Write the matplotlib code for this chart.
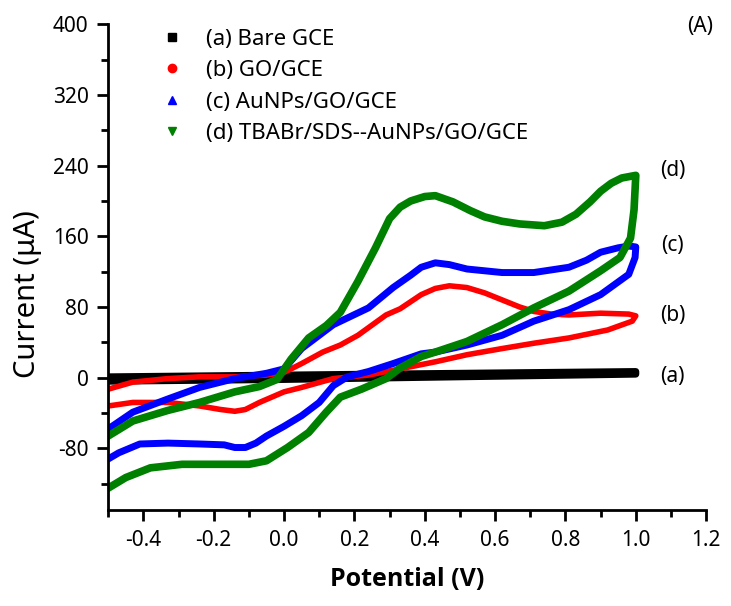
import numpy as np
import matplotlib
matplotlib.use('Agg')
import matplotlib.pyplot as plt
from matplotlib.lines import Line2D
from matplotlib.ticker import MultipleLocator

plt.rcParams['font.family'] = ['Noto Sans', 'DejaVu Sans']
plt.rcParams['axes.unicode_minus'] = False

# (a) Bare GCE
a_fwd_x = [-0.5, 0.0, 0.5, 1.0]
a_fwd_y = [1, 3, 5, 7]
a_rev_x = [1.0, 0.5, 0.0, -0.5]
a_rev_y = [4, 1, -2, -4]

# (b) GO/GCE
b_fwd_x = [-0.5, -0.43, -0.33, -0.24, -0.14, -0.05, 0.0, 0.05, 0.11, 0.16, 0.21, 0.29, 0.33,
           0.39, 0.43, 0.47, 0.52, 0.57, 0.62, 0.67, 0.71, 0.76, 0.81, 0.90, 0.98, 1.0]
b_fwd_y = [-13, -5, -1, 1, 1, 3, 6, 16, 29, 37, 48, 71, 78, 94, 101, 104, 102, 96, 88, 80, 75,
           72, 71, 73, 72, 70]
b_rev_x = [1.0, 0.99, 0.92, 0.81, 0.71, 0.62, 0.52, 0.43, 0.33, 0.24, 0.14, 0.05, 0.0,
           -0.07, -0.11, -0.14, -0.18, -0.24, -0.33, -0.43, -0.5]
b_rev_y = [70, 64, 54, 45, 39, 33, 26, 18, 10, 3, -1, -11, -16, -28, -36, -38, -36, -32, -28,
           -28, -32]

# (c) AuNPs/GO/GCE
c_fwd_x = [-0.5, -0.43, -0.33, -0.24, -0.14, -0.05, 0.0, 0.05, 0.10, 0.14, 0.24, 0.31, 0.36,
           0.39, 0.43, 0.47, 0.52, 0.62, 0.71, 0.81, 0.86, 0.90, 0.95, 0.98, 1.0]
c_fwd_y = [-58, -39, -24, -11, -1, 5, 10, 33, 48, 60, 79, 102, 116, 125, 130, 128, 123, 119,
           119, 125, 133, 142, 147, 149, 148]
c_rev_x = [1.0, 0.998, 0.98, 0.90, 0.81, 0.71, 0.62, 0.52, 0.43, 0.39, 0.31, 0.24, 0.18, 0.14,
           0.10, 0.05, 0.0, -0.05, -0.08, -0.11, -0.14, -0.17, -0.24, -0.33, -0.41, -0.47, -0.5]
c_rev_y = [148, 136, 117, 94, 77, 64, 48, 37, 29, 27, 16, 7, 1, -9, -28, -43, -55, -66, -74,
           -79, -79, -76, -75, -74, -75, -85, -92]

# (d) TBABr/SDS--AuNPs/GO/GCE
d_fwd_x = [-0.5, -0.43, -0.33, -0.24, -0.14, -0.07, -0.02, 0.02, 0.07, 0.12, 0.16, 0.21, 0.26,
           0.30, 0.33, 0.36, 0.40, 0.43, 0.48, 0.53, 0.57, 0.62, 0.67, 0.74, 0.79, 0.83, 0.87,
           0.90, 0.93, 0.96, 1.0]
d_fwd_y = [-66, -49, -37, -28, -16, -10, -2, 21, 45, 59, 74, 109, 147, 180, 193, 200, 205, 206,
           199, 189, 182, 177, 174, 172, 176, 185, 199, 211, 220, 226, 229]
d_rev_x = [1.0, 0.995, 0.985, 0.955, 0.90, 0.81, 0.71, 0.62, 0.52, 0.43, 0.39, 0.33, 0.29,
           0.22, 0.16, 0.12, 0.07, 0.01, -0.05, -0.10, -0.19, -0.29, -0.38, -0.45, -0.5]
d_rev_y = [229, 190, 158, 136, 121, 98, 79, 60, 41, 29, 24, 11, -1, -13, -22, -39, -62, -79,
           -94, -98, -98, -98, -102, -113, -125]

labels = ['(a) Bare GCE', '(b) GO/GCE', '(c) AuNPs/GO/GCE', '(d) TBABr/SDS--AuNPs/GO/GCE']
tags = ['(a)', '(b)', '(c)', '(d)']
tag_y = [1, 70, 150, 235]
colors = ['black', 'red', 'blue', 'green']
markers = ['s', 'o', '^', 'v']
widths = [5, 4, 5, 5.5]

curves = [(a_fwd_x + a_rev_x, a_fwd_y + a_rev_y),
          (b_fwd_x + b_rev_x, b_fwd_y + b_rev_y),
          (c_fwd_x + c_rev_x, c_fwd_y + c_rev_y),
          (d_fwd_x + d_rev_x, d_fwd_y + d_rev_y)]

fig = plt.figure(figsize=(7.31, 6.06), dpi=100)
ax = fig.add_axes([0.148, 0.158, 0.818, 0.802])

for (x, y), c, w in zip(curves, colors, widths):
    ax.plot(x, y, color=c, lw=w, solid_joinstyle='round', solid_capstyle='round')

for t, ty in zip(tags, tag_y):
    ax.text(1.105, ty, t, fontsize=15, ha='center', va='center')
ax.text(1.182, 397, '(A)', fontsize=15, ha='center', va='center')

handles = [Line2D([], [], color=c, marker=m, linestyle='none', markersize=6)
           for c, m in zip(colors, markers)]
ax.legend(handles, labels, loc='upper left', bbox_to_anchor=(0.055, 1.032), frameon=False,
          fontsize=16, handletextpad=1.0, labelspacing=0.47, handlelength=1.0)

ax.set_xlim(-0.5, 1.2)
ax.set_ylim(-150, 400)
ax.xaxis.set_minor_locator(MultipleLocator(0.1))
ax.yaxis.set_minor_locator(MultipleLocator(40))
ax.set_xticks(np.arange(-0.4, 1.21, 0.2))
ax.set_yticks(np.arange(-80, 401, 80))
ax.set_xticklabels(['-0.4', '-0.2', '0.0', '0.2', '0.4', '0.6', '0.8', '1.0', '1.2'])

for s in ['top', 'right']:
    ax.spines[s].set_visible(False)
for s in ['left', 'bottom']:
    ax.spines[s].set_linewidth(2)
ax.tick_params(which='major', length=8, width=2, labelsize=15, direction='out', pad=6)
ax.tick_params(which='minor', length=5, width=2, direction='out')

ax.set_xlabel('Potential (V)', fontsize=18, fontweight='bold', labelpad=12,
              family=['Open Sans', 'DejaVu Sans'])
ax.set_ylabel('Current (\u03bcA)', fontsize=21)
ax.yaxis.set_label_coords(-0.111, 0.444)

fig.savefig('out.png', dpi=100)
